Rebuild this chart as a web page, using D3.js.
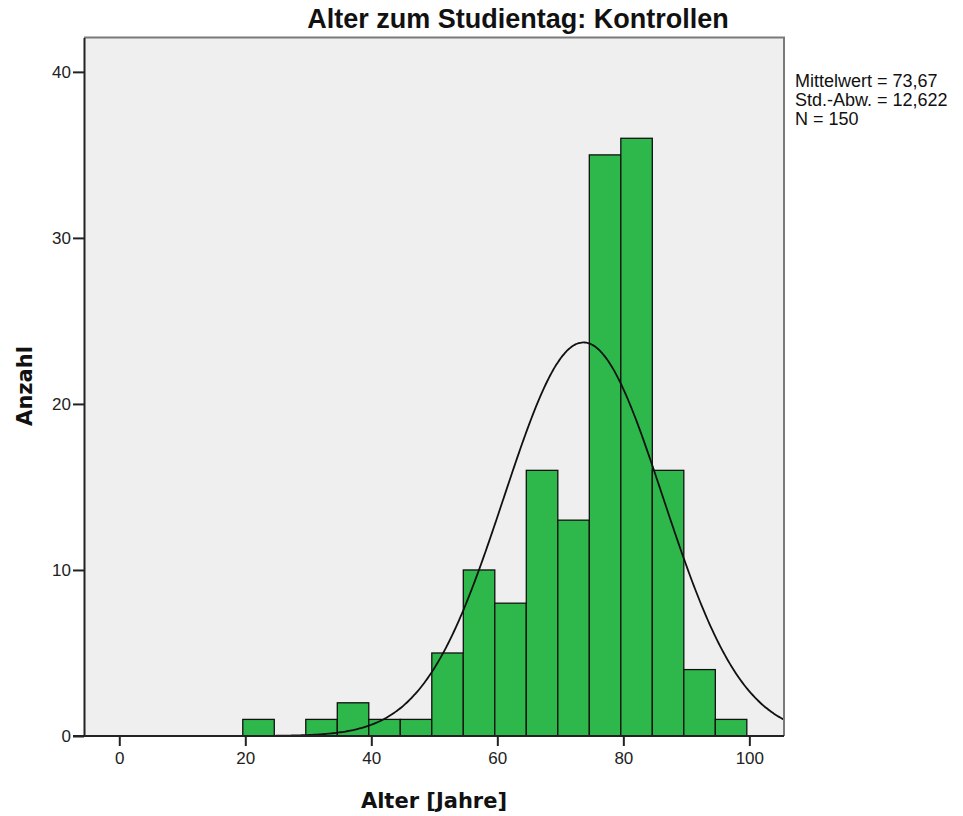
<!DOCTYPE html>
<html>
<head>
<meta charset="utf-8">
<script src="https://cdn.jsdelivr.net/npm/d3@7"></script>
<style>
  html, body { margin: 0; padding: 0; background: #fff; }
  svg { display: block; }
</style>
</head>
<body>
<div id="chart"></div>
<script>
// Histogram data: bins of width 5 years, lower edges
const binStarts = [19.6, 24.6, 29.6, 34.6, 39.6, 44.6, 49.6, 54.6, 59.6, 64.6, 69.6, 74.6, 79.6, 84.6, 89.6, 94.6];
const counts    = [1, 0, 1, 2, 1, 1, 5, 10, 8, 16, 13, 35, 36, 16, 4, 1];
const binWidth = 5;

// Summary statistics
const mean = 73.67;
const sd = 12.622;
const n = 150;

const xTicks = [0, 20, 40, 60, 80, 100];
const yTicks = [0, 10, 20, 30, 40];
const statsLines = ["Mittelwert = 73,67", "Std.-Abw. = 12,622", "N = 150"];

const W = 963, H = 816;
const plot = { left: 84, right: 784, top: 37.5, bottom: 736 };

const svg = d3.select("#chart").append("svg")
  .attr("width", W).attr("height", H);

const x = d3.scaleLinear().domain([-5.6, 105.5]).range([plot.left, plot.right]);
const y = d3.scaleLinear().domain([0, 42.07]).range([plot.bottom, plot.top]);

// plot background
svg.append("rect")
  .attr("x", plot.left).attr("y", plot.top)
  .attr("width", plot.right - plot.left).attr("height", plot.bottom - plot.top)
  .attr("fill", "#efefef");

svg.append("clipPath").attr("id", "clip")
  .append("rect")
  .attr("x", plot.left).attr("y", plot.top)
  .attr("width", plot.right - plot.left).attr("height", plot.bottom - plot.top);

// bars
const bins = binStarts.map((s, i) => ({ x0: s, x1: s + binWidth, count: counts[i] }))
  .filter(d => d.count > 0);

svg.append("g").selectAll("rect")
  .data(bins)
  .join("rect")
  .attr("x", d => x(d.x0))
  .attr("y", d => y(d.count))
  .attr("width", d => x(d.x1) - x(d.x0))
  .attr("height", d => y(0) - y(d.count))
  .attr("fill", "#2eb84b")
  .attr("stroke", "#111")
  .attr("stroke-width", 1.3);

// fitted normal curve scaled to counts
const pdf = v => n * binWidth * Math.exp(-0.5 * ((v - mean) / sd) ** 2) / (sd * Math.sqrt(2 * Math.PI));
const curvePts = d3.range(-5.6, 105.55, 0.25).map(v => [v, pdf(v)]);
svg.append("path")
  .datum(curvePts)
  .attr("clip-path", "url(#clip)")
  .attr("fill", "none")
  .attr("stroke", "#111")
  .attr("stroke-width", 1.8)
  .attr("d", d3.line().x(d => x(d[0])).y(d => y(d[1])).curve(d3.curveBasis));

// frame: top and right
svg.append("path")
  .attr("d", `M${plot.left},${plot.top}H${plot.right}V${plot.bottom}`)
  .attr("fill", "none").attr("stroke", "#7a7a7a").attr("stroke-width", 2);

// axes
const xAxis = d3.axisBottom(x).tickValues(xTicks).tickSize(10).tickPadding(6).tickSizeOuter(0);
const yAxis = d3.axisLeft(y).tickValues(yTicks).tickSize(11).tickPadding(2).tickSizeOuter(0);

const gx = svg.append("g").attr("transform", `translate(0,${plot.bottom})`).call(xAxis);
const gy = svg.append("g").attr("transform", `translate(${plot.left},0)`).call(yAxis);

for (const g of [gx, gy]) {
  g.select(".domain").attr("stroke", "#222").attr("stroke-width", 2);
  g.selectAll(".tick line").attr("stroke", "#222").attr("stroke-width", 2);
  g.selectAll(".tick text")
    .attr("fill", "#222")
    .style("font-family", "'Liberation Sans', Arial, sans-serif")
    .style("font-size", "17px");
}
gx.select(".domain").attr("d", `M${plot.left - 11},0H${plot.right}`);

// title
svg.append("text")
  .attr("x", 518).attr("y", 28)
  .attr("text-anchor", "middle")
  .style("font-family", "'Liberation Sans', Arial, sans-serif")
  .style("font-weight", "bold")
  .style("font-size", "27px")
  .attr("fill", "#111")
  .text("Alter zum Studientag: Kontrollen");

// axis titles
svg.append("text")
  .attr("x", 434).attr("y", 808)
  .attr("text-anchor", "middle")
  .style("font-family", "'DejaVu Sans', Verdana, sans-serif")
  .style("font-weight", "bold")
  .style("font-size", "21px")
  .attr("fill", "#111")
  .text("Alter [Jahre]");

svg.append("text")
  .attr("transform", "translate(32,386) rotate(-90)")
  .attr("text-anchor", "middle")
  .style("font-family", "'DejaVu Sans', Verdana, sans-serif")
  .style("font-weight", "bold")
  .style("font-size", "21px")
  .attr("fill", "#111")
  .text("Anzahl");

// summary statistics
svg.append("g").selectAll("text")
  .data(statsLines)
  .join("text")
  .attr("x", 795)
  .attr("y", (d, i) => 87 + i * 19)
  .style("font-family", "'Liberation Sans', Arial, sans-serif")
  .style("font-size", "18px")
  .attr("fill", "#111")
  .text(d => d);
</script>
</body>
</html>
